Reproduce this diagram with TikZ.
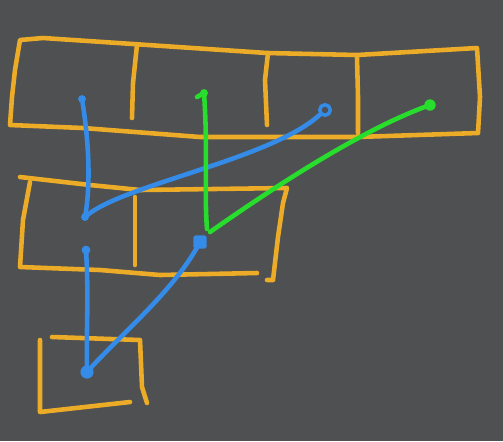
\documentclass[tikz,border=0pt]{standalone}
\usepackage{tikz}
\usetikzlibrary{positioning}

\definecolor{slate}{RGB}{79,80,82}
\definecolor{marker}{RGB}{236,172,40}
\definecolor{pen}{RGB}{52,140,232}
\definecolor{leaf}{RGB}{40,222,44}

\tikzset{
    frame/.style={draw=marker, line width=2.6pt, line cap=round, line join=round},
    blueline/.style={draw=pen, line width=2.6pt, line cap=round},
    greenline/.style={draw=leaf, line width=2.6pt, line cap=round},
    bluedot/.style={circle, fill=pen, inner sep=0pt, minimum size=5pt},
    bluering/.style={circle, draw=pen, line width=2pt, inner sep=0pt, minimum size=6pt},
    bluesquare/.style={rectangle, rounded corners=1pt, fill=pen, inner sep=0pt, minimum size=7.5pt},
    greendot/.style={circle, fill=leaf, inner sep=0pt, minimum size=6.5pt}
}

\begin{document}
\begin{tikzpicture}[x=0.02cm, y=-0.02cm]
        \useasboundingbox[fill=slate] (0,0) rectangle (503,441);
        % Top row of boxes
        \draw[frame] (20,40) -- (43,38) -- (133,44) -- (267,53) -- (357,55) -- (477,48)
            -- (480,97) -- (478,133) -- (357,137) -- (200,137) -- (83,128) -- (10,125)
            -- (12,97) -- (15,70) -- cycle;
        \draw[frame] (137,45) -- (133,83) -- (132,118);
        \draw[frame] (268,53) -- (265,80) -- (267,125);
        \draw[frame] (357,57) -- (358,97) -- (358,133);
        % Middle row
        \draw[frame] (20,177) -- (90,185) -- (140,190) -- (287,188) -- (283,203)
            -- (278,237) -- (273,280) -- (267,280);
        \draw[frame] (30,182) -- (23,220) -- (20,267) -- (100,270) -- (160,275) -- (257,273);
        \draw[frame] (135,197) -- (135,265);
        % Bottom box
        \draw[frame] (52,337) -- (140,340) -- (142,387) -- (147,403);
        \draw[frame] (40,340) -- (40,412) -- (130,402);
        % End points
        \node[bluedot, minimum size=4.5pt] (topa) at (82,99) {};
        \node[greendot, minimum size=4.5pt] (topb) at (204,93) {};
        \node[bluering] (topc) at (325,110) {};
        \node[greendot] (topd) at (430,105) {};
        \node[bluedot, minimum size=4.5pt] (mida) at (85,217) {};
        \node[bluedot] (midb) at (86,250) {};
        \node[bluesquare] (midc) at (200,242) {};
        \coordinate (midd) at (207,229);
        \node[bluedot, minimum size=7.5pt] (low) at (87,372) {};
        % Blue lines
        \draw[blueline] (topa) .. controls (90,150) and (90,190) .. (mida.center);
        \draw[blueline] (mida.center) .. controls (120,185) and (270,160) .. (topc);
        \draw[blueline] (midb.center) .. controls (89,300) and (86,330) .. (low.center);
        \draw[blueline] (low.center) .. controls (120,335) and (175,290) .. (midc.center);
        % Green lines
        \draw[greenline] (topb.center) -- ++(-7,4);
        \draw[greenline] (topb.center) .. controls (208,150) and (204,190) .. (midd);
        \draw[greenline] (midd) ++(3,3) coordinate (midd2);
        \draw[greenline] (midd2) .. controls (270,190) and (360,130) .. (topd.center);
    \end{tikzpicture}
\end{document}
